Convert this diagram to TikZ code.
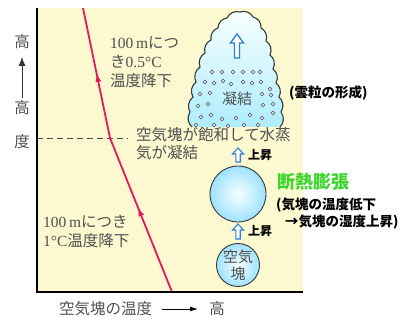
\documentclass[tikz,border=0pt]{standalone}
\usepackage{fontspec}
\setmainfont{Noto Sans CJK JP}
\newfontfamily\serifnum{Liberation Serif}
\usetikzlibrary{arrows.meta,decorations.markings}

\definecolor{panelyellow}{HTML}{FCF8CF}
\definecolor{textgray}{HTML}{505050}
\definecolor{lapse}{HTML}{E8175D}
\definecolor{liftblue}{HTML}{2C7DD6}
\definecolor{heatgreen}{HTML}{3CD62C}
\definecolor{outline}{HTML}{383838}

\tikzset{
  label/.style={inner sep=0pt, text=textgray, font=\fontsize{15.5}{19}\selectfont},
  boldlabel/.style={inner sep=0pt, text=black, font=\fontsize{13.5}{17}\selectfont\bfseries},
  axisline/.style={line width=1.4pt, black},
  lapseline/.style={line width=1.8pt, lapse},
  balloon/.style={circle, draw=outline, line width=0.9pt, inner sep=0pt,
    inner color=white!60!cyan!8, outer color=blue!30!cyan!38},
  liftarrow/.style={draw=liftblue, line width=1.1pt, fill=white, line join=miter},
  droplet/.style={draw=gray!80!black, line width=0.7pt, fill=white!90!cyan},
  midarrow/.style={postaction={decorate}, decoration={markings,
    mark=at position #1 with {\arrow{Latex[length=9pt,width=6pt]}}}},
  bump/.style={bend left=40}
}

% hollow block arrow pointing up: x, top y, bottom y
\newcommand\liftup[3]{%
  \draw[liftarrow] (#1-2.2,#3) -- (#1-2.2,#2+6) -- (#1-5.5,#2+6) -- (#1,#2)
    -- (#1+5.5,#2+6) -- (#1+2.2,#2+6) -- (#1+2.2,#3) -- cycle;}

\begin{document}
\begin{tikzpicture}[x=1pt, y=-1pt]
  \useasboundingbox (0,0) rectangle (410,320);

  % chart area
  \fill[panelyellow] (37,8) rectangle (303,292);

  % saturation level
  \draw[dashed, dash pattern=on 6pt off 4pt, line width=0.8pt, textgray]
    (37,138) -- (128,138);

  % temperature profile of the rising parcel
  \coordinate (ground) at (172,292);
  \coordinate (lcl) at (110,138);
  \coordinate (ptop) at (83,8);
  \draw[lapseline, midarrow=0.55] (ground) -- (lcl);
  \draw[lapseline, midarrow=0.5] (lcl) -- (ptop);

  % axes
  \draw[axisline] (37,8) -- (37,292) -- (303,292);

  % cloud
  \def\cloudpath{(192,127) to[bump] (190,112) to[bump] (193,97)
    to[bump] (196,82) to[bump] (200,67) to[bump] (205,53)
    to[bump] (211,40) to[bump] (218,28) to[bump] (227,18)
    to[bump] (240,12) to[bump] (253,17) to[bump] (261,28)
    to[bump] (266,41) to[bump] (270,55) to[bump] (273,69)
    to[bump] (276,83) to[bump] (279,97)
    to[bump] (281,112) to[bump] (280,127)}
  \shade[top color=white!85!cyan!20, bottom color=blue!22!cyan!32] \cloudpath -- cycle;
  \draw[outline, line width=1.1pt] \cloudpath;

  % droplets in the cloud
  \foreach \p in {(212,72),(222,72),(233,72),(243,72),(253,72),(260,72),
      (205,82),(214,83),(223,81),(231,84),(243,82),(252,83),(261,82),
      (270,89),(200,94),(210,93),(262,94),(271,95),
      (198,106),(208,104),(263,105),(273,104),
      (201,117),(211,115),(222,119),(236,118),(250,115),(262,118),(273,113),
      (196,125),(214,125),(228,126),(244,125),(258,125)}
    \draw[droplet] \p circle (1.9);

  \draw[liftarrow, line width=1.3pt] (234.5,58) -- (234.5,43) -- (230.5,43) -- (237,34)
    -- (243.5,43) -- (239.5,43) -- (239.5,58) -- cycle;
  \node[label, font=\fontsize{15}{18}\selectfont] (cond) at (237,99) {凝結};
  \node[boldlabel, anchor=west] (cloudnote) at (289,93) {(雲粒の形成)};

  % rising air parcels
  \node[balloon, minimum size=56pt] (big) at (238,194) {};
  \node[balloon, minimum size=42pt, align=center, text=textgray,
        font=\fontsize{15}{17}\selectfont] (small) at (238,265) {空気\\塊};
  \liftup{238}{148}{162}
  \liftup{238}{224}{239}
  \node[boldlabel, font=\fontsize{12}{14}\selectfont\bfseries, anchor=west] (rise1) at (248,155) {上昇};
  \node[boldlabel, font=\fontsize{12}{14}\selectfont\bfseries, anchor=west] (rise2) at (248,231) {上昇};

  \node[inner sep=0pt, anchor=west, text=heatgreen,
        font=\fontsize{18}{20}\selectfont\bfseries] (adiab) at (277,182) {断熱膨張};
  \node[boldlabel, anchor=west] (note1) at (276,205) {(気塊の温度低下};
  \node[boldlabel, anchor=west] (note2) at (285,222) {→気塊の湿度上昇)};

  % slope annotations
  \node[label, anchor=west] (dry1) at (110,43) {{\serifnum 100\,m}につ};
  \node[label, anchor=west] (dry2) at (110,62) {き{\serifnum 0.5°C}};
  \node[label, anchor=west] (dry3) at (110,81) {温度降下};
  \node[label, anchor=west] (sat1) at (136,135) {空気塊が飽和して水蒸};
  \node[label, anchor=west] (sat2) at (136,153) {気が凝結};
  \node[label, anchor=west] (moist1) at (43,222) {{\serifnum 100\,m}につき};
  \node[label, anchor=west] (moist2) at (43,241) {{\serifnum 1°C}温度降下};

  % vertical axis label
  \node[label] (hi) at (22,42) {高};
  \node[label] (alt1) at (22,108) {高};
  \node[label] (alt2) at (22,142) {度};
  \coordinate (vstart) at (22,98);
  \coordinate (vend) at (22,57);
  \draw[-{Latex[length=9pt,width=7pt]}, line width=0.9pt, black!80] (vstart) -- (vend);

  % horizontal axis label
  \node[label, anchor=west] (temp) at (59,309) {空気塊の温度};
  \node[label] (hot) at (217,309) {高};
  \coordinate (hstart) at (162,309);
  \coordinate (hend) at (198,309);
  \draw[-{Latex[length=8pt,width=5pt]}, line width=0.9pt, black] (hstart) -- (hend);
\end{tikzpicture}
\end{document}
